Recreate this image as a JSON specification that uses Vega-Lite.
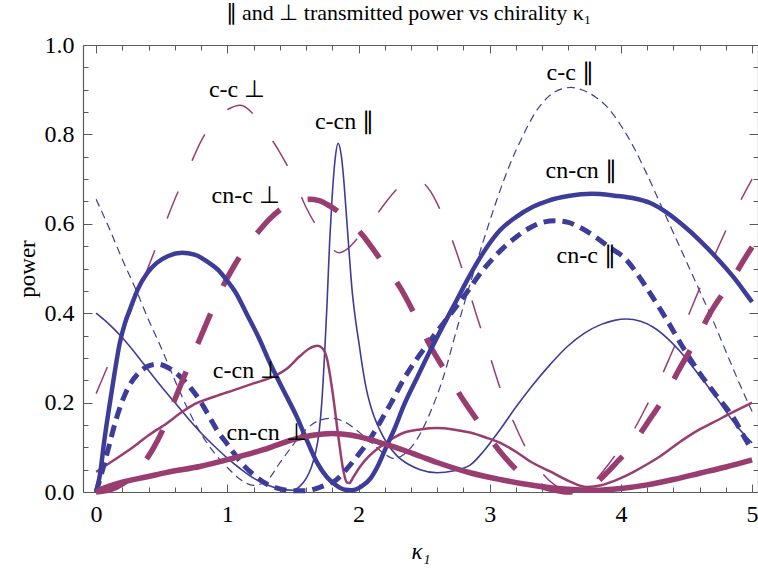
{
  "$schema": "https://vega.github.io/schema/vega-lite/v6.json",
  "width": 675,
  "height": 447,
  "autosize": {"type": "none"},
  "padding": {"left": 83, "top": 45, "right": 0, "bottom": 85},
  "background": "white",
  "config": {
    "view": {"stroke": null},
    "axis": {
      "grid": false,
      "labelFont": "Liberation Serif",
      "labelFontSize": 24,
      "labelColor": "black",
      "titleFont": "Liberation Serif",
      "titleFontSize": 23,
      "titleFontWeight": "normal",
      "titleColor": "black",
      "domainColor": "#5a5a5a",
      "domainWidth": 1.2,
      "tickColor": "#5a5a5a",
      "tickWidth": 1
    }
  },
  "title": {
    "text": "∥ and ⊥ transmitted power vs chirality κ₁",
    "font": "Liberation Serif",
    "fontSize": 22,
    "fontWeight": "normal",
    "color": "black",
    "anchor": "middle",
    "dx": -12,
    "offset": 8
  },
  "datasets": {
    "curves": [
      {"s": "cc_par", "k": 0, "p": 0.655}, {"s": "cc_par", "k": 0.1, "p": 0.59}, {"s": "cc_par", "k": 0.2, "p": 0.52}, {"s": "cc_par", "k": 0.3, "p": 0.455}, {"s": "cc_par", "k": 0.4, "p": 0.385}, {"s": "cc_par", "k": 0.5, "p": 0.32}, {"s": "cc_par", "k": 0.6, "p": 0.25}, {"s": "cc_par", "k": 0.7, "p": 0.185}, {"s": "cc_par", "k": 0.8, "p": 0.13}, {"s": "cc_par", "k": 0.9, "p": 0.088}, {"s": "cc_par", "k": 1.0, "p": 0.055}, {"s": "cc_par", "k": 1.1, "p": 0.028}, {"s": "cc_par", "k": 1.2, "p": 0.015}, {"s": "cc_par", "k": 1.3, "p": 0.025}, {"s": "cc_par", "k": 1.4, "p": 0.065}, {"s": "cc_par", "k": 1.5, "p": 0.105}, {"s": "cc_par", "k": 1.6, "p": 0.14}, {"s": "cc_par", "k": 1.7, "p": 0.16}, {"s": "cc_par", "k": 1.8, "p": 0.165}, {"s": "cc_par", "k": 1.9, "p": 0.156}, {"s": "cc_par", "k": 2.0, "p": 0.135}, {"s": "cc_par", "k": 2.1, "p": 0.11}, {"s": "cc_par", "k": 2.2, "p": 0.085}, {"s": "cc_par", "k": 2.27, "p": 0.075}, {"s": "cc_par", "k": 2.35, "p": 0.085}, {"s": "cc_par", "k": 2.45, "p": 0.12}, {"s": "cc_par", "k": 2.55, "p": 0.18}, {"s": "cc_par", "k": 2.65, "p": 0.26}, {"s": "cc_par", "k": 2.75, "p": 0.365}, {"s": "cc_par", "k": 2.85, "p": 0.465}, {"s": "cc_par", "k": 2.95, "p": 0.56}, {"s": "cc_par", "k": 3.05, "p": 0.65}, {"s": "cc_par", "k": 3.15, "p": 0.73}, {"s": "cc_par", "k": 3.25, "p": 0.795}, {"s": "cc_par", "k": 3.35, "p": 0.85}, {"s": "cc_par", "k": 3.45, "p": 0.885}, {"s": "cc_par", "k": 3.55, "p": 0.902}, {"s": "cc_par", "k": 3.62, "p": 0.905}, {"s": "cc_par", "k": 3.7, "p": 0.9}, {"s": "cc_par", "k": 3.8, "p": 0.885}, {"s": "cc_par", "k": 3.9, "p": 0.86}, {"s": "cc_par", "k": 4.0, "p": 0.82}, {"s": "cc_par", "k": 4.1, "p": 0.77}, {"s": "cc_par", "k": 4.2, "p": 0.71}, {"s": "cc_par", "k": 4.3, "p": 0.645}, {"s": "cc_par", "k": 4.4, "p": 0.58}, {"s": "cc_par", "k": 4.5, "p": 0.515}, {"s": "cc_par", "k": 4.6, "p": 0.45}, {"s": "cc_par", "k": 4.7, "p": 0.385}, {"s": "cc_par", "k": 4.8, "p": 0.315}, {"s": "cc_par", "k": 4.9, "p": 0.245}, {"s": "cc_par", "k": 5.0, "p": 0.18},

      {"s": "cc_perp", "k": 0, "p": 0.22}, {"s": "cc_perp", "k": 0.1, "p": 0.29}, {"s": "cc_perp", "k": 0.2, "p": 0.36}, {"s": "cc_perp", "k": 0.3, "p": 0.43}, {"s": "cc_perp", "k": 0.4, "p": 0.505}, {"s": "cc_perp", "k": 0.5, "p": 0.58}, {"s": "cc_perp", "k": 0.6, "p": 0.655}, {"s": "cc_perp", "k": 0.7, "p": 0.72}, {"s": "cc_perp", "k": 0.8, "p": 0.785}, {"s": "cc_perp", "k": 0.9, "p": 0.83}, {"s": "cc_perp", "k": 1.0, "p": 0.855}, {"s": "cc_perp", "k": 1.1, "p": 0.865}, {"s": "cc_perp", "k": 1.2, "p": 0.845}, {"s": "cc_perp", "k": 1.3, "p": 0.805}, {"s": "cc_perp", "k": 1.4, "p": 0.76}, {"s": "cc_perp", "k": 1.5, "p": 0.705}, {"s": "cc_perp", "k": 1.6, "p": 0.637}, {"s": "cc_perp", "k": 1.7, "p": 0.585}, {"s": "cc_perp", "k": 1.78, "p": 0.55}, {"s": "cc_perp", "k": 1.85, "p": 0.535}, {"s": "cc_perp", "k": 1.92, "p": 0.545}, {"s": "cc_perp", "k": 2.0, "p": 0.57}, {"s": "cc_perp", "k": 2.1, "p": 0.605}, {"s": "cc_perp", "k": 2.2, "p": 0.645}, {"s": "cc_perp", "k": 2.3, "p": 0.68}, {"s": "cc_perp", "k": 2.38, "p": 0.7}, {"s": "cc_perp", "k": 2.45, "p": 0.698}, {"s": "cc_perp", "k": 2.55, "p": 0.672}, {"s": "cc_perp", "k": 2.6, "p": 0.645}, {"s": "cc_perp", "k": 2.7, "p": 0.575}, {"s": "cc_perp", "k": 2.8, "p": 0.49}, {"s": "cc_perp", "k": 2.9, "p": 0.395}, {"s": "cc_perp", "k": 3.0, "p": 0.305}, {"s": "cc_perp", "k": 3.1, "p": 0.215}, {"s": "cc_perp", "k": 3.2, "p": 0.145}, {"s": "cc_perp", "k": 3.3, "p": 0.085}, {"s": "cc_perp", "k": 3.4, "p": 0.042}, {"s": "cc_perp", "k": 3.5, "p": 0.015}, {"s": "cc_perp", "k": 3.6, "p": 0.002}, {"s": "cc_perp", "k": 3.7, "p": 0.006}, {"s": "cc_perp", "k": 3.8, "p": 0.025}, {"s": "cc_perp", "k": 3.9, "p": 0.06}, {"s": "cc_perp", "k": 4.0, "p": 0.1}, {"s": "cc_perp", "k": 4.1, "p": 0.14}, {"s": "cc_perp", "k": 4.2, "p": 0.195}, {"s": "cc_perp", "k": 4.3, "p": 0.253}, {"s": "cc_perp", "k": 4.4, "p": 0.32}, {"s": "cc_perp", "k": 4.5, "p": 0.385}, {"s": "cc_perp", "k": 4.6, "p": 0.455}, {"s": "cc_perp", "k": 4.7, "p": 0.52}, {"s": "cc_perp", "k": 4.8, "p": 0.585}, {"s": "cc_perp", "k": 4.9, "p": 0.645}, {"s": "cc_perp", "k": 5.0, "p": 0.7},

      {"s": "ccn_par", "k": 0, "p": 0.4}, {"s": "ccn_par", "k": 0.1, "p": 0.375}, {"s": "ccn_par", "k": 0.2, "p": 0.345}, {"s": "ccn_par", "k": 0.3, "p": 0.31}, {"s": "ccn_par", "k": 0.4, "p": 0.272}, {"s": "ccn_par", "k": 0.5, "p": 0.235}, {"s": "ccn_par", "k": 0.6, "p": 0.2}, {"s": "ccn_par", "k": 0.7, "p": 0.165}, {"s": "ccn_par", "k": 0.8, "p": 0.132}, {"s": "ccn_par", "k": 0.9, "p": 0.103}, {"s": "ccn_par", "k": 1.0, "p": 0.076}, {"s": "ccn_par", "k": 1.1, "p": 0.052}, {"s": "ccn_par", "k": 1.2, "p": 0.031}, {"s": "ccn_par", "k": 1.3, "p": 0.016}, {"s": "ccn_par", "k": 1.4, "p": 0.007}, {"s": "ccn_par", "k": 1.5, "p": 0.004}, {"s": "ccn_par", "k": 1.55, "p": 0.012}, {"s": "ccn_par", "k": 1.6, "p": 0.03}, {"s": "ccn_par", "k": 1.64, "p": 0.055}, {"s": "ccn_par", "k": 1.67, "p": 0.085}, {"s": "ccn_par", "k": 1.7, "p": 0.135}, {"s": "ccn_par", "k": 1.72, "p": 0.2}, {"s": "ccn_par", "k": 1.74, "p": 0.3}, {"s": "ccn_par", "k": 1.76, "p": 0.42}, {"s": "ccn_par", "k": 1.78, "p": 0.56}, {"s": "ccn_par", "k": 1.8, "p": 0.665}, {"s": "ccn_par", "k": 1.82, "p": 0.74}, {"s": "ccn_par", "k": 1.845, "p": 0.78}, {"s": "ccn_par", "k": 1.87, "p": 0.75}, {"s": "ccn_par", "k": 1.89, "p": 0.69}, {"s": "ccn_par", "k": 1.91, "p": 0.61}, {"s": "ccn_par", "k": 1.93, "p": 0.53}, {"s": "ccn_par", "k": 1.95, "p": 0.455}, {"s": "ccn_par", "k": 1.975, "p": 0.39}, {"s": "ccn_par", "k": 2.0, "p": 0.34}, {"s": "ccn_par", "k": 2.03, "p": 0.28}, {"s": "ccn_par", "k": 2.06, "p": 0.23}, {"s": "ccn_par", "k": 2.1, "p": 0.185}, {"s": "ccn_par", "k": 2.16, "p": 0.14}, {"s": "ccn_par", "k": 2.22, "p": 0.108}, {"s": "ccn_par", "k": 2.29, "p": 0.082}, {"s": "ccn_par", "k": 2.38, "p": 0.062}, {"s": "ccn_par", "k": 2.47, "p": 0.05}, {"s": "ccn_par", "k": 2.6, "p": 0.043}, {"s": "ccn_par", "k": 2.72, "p": 0.047}, {"s": "ccn_par", "k": 2.85, "p": 0.06}, {"s": "ccn_par", "k": 2.95, "p": 0.09}, {"s": "ccn_par", "k": 3.08, "p": 0.14}, {"s": "ccn_par", "k": 3.2, "p": 0.19}, {"s": "ccn_par", "k": 3.33, "p": 0.24}, {"s": "ccn_par", "k": 3.46, "p": 0.285}, {"s": "ccn_par", "k": 3.59, "p": 0.325}, {"s": "ccn_par", "k": 3.72, "p": 0.355}, {"s": "ccn_par", "k": 3.85, "p": 0.375}, {"s": "ccn_par", "k": 3.95, "p": 0.384}, {"s": "ccn_par", "k": 4.04, "p": 0.387}, {"s": "ccn_par", "k": 4.15, "p": 0.382}, {"s": "ccn_par", "k": 4.25, "p": 0.368}, {"s": "ccn_par", "k": 4.35, "p": 0.345}, {"s": "ccn_par", "k": 4.45, "p": 0.315}, {"s": "ccn_par", "k": 4.6, "p": 0.26}, {"s": "ccn_par", "k": 4.73, "p": 0.21}, {"s": "ccn_par", "k": 4.85, "p": 0.16}, {"s": "ccn_par", "k": 4.95, "p": 0.125}, {"s": "ccn_par", "k": 5.0, "p": 0.11},

      {"s": "ccn_perp", "k": 0, "p": 0.045}, {"s": "ccn_perp", "k": 0.14, "p": 0.072}, {"s": "ccn_perp", "k": 0.28, "p": 0.1}, {"s": "ccn_perp", "k": 0.4, "p": 0.127}, {"s": "ccn_perp", "k": 0.54, "p": 0.154}, {"s": "ccn_perp", "k": 0.64, "p": 0.176}, {"s": "ccn_perp", "k": 0.74, "p": 0.195}, {"s": "ccn_perp", "k": 0.9, "p": 0.213}, {"s": "ccn_perp", "k": 1.05, "p": 0.228}, {"s": "ccn_perp", "k": 1.2, "p": 0.243}, {"s": "ccn_perp", "k": 1.35, "p": 0.258}, {"s": "ccn_perp", "k": 1.45, "p": 0.275}, {"s": "ccn_perp", "k": 1.55, "p": 0.303}, {"s": "ccn_perp", "k": 1.62, "p": 0.32}, {"s": "ccn_perp", "k": 1.69, "p": 0.327}, {"s": "ccn_perp", "k": 1.73, "p": 0.32}, {"s": "ccn_perp", "k": 1.76, "p": 0.298}, {"s": "ccn_perp", "k": 1.8, "p": 0.228}, {"s": "ccn_perp", "k": 1.85, "p": 0.116}, {"s": "ccn_perp", "k": 1.88, "p": 0.055}, {"s": "ccn_perp", "k": 1.91, "p": 0.022}, {"s": "ccn_perp", "k": 1.93, "p": 0.02}, {"s": "ccn_perp", "k": 1.96, "p": 0.033}, {"s": "ccn_perp", "k": 2.01, "p": 0.056}, {"s": "ccn_perp", "k": 2.08, "p": 0.08}, {"s": "ccn_perp", "k": 2.16, "p": 0.1}, {"s": "ccn_perp", "k": 2.25, "p": 0.118}, {"s": "ccn_perp", "k": 2.34, "p": 0.132}, {"s": "ccn_perp", "k": 2.47, "p": 0.14}, {"s": "ccn_perp", "k": 2.6, "p": 0.143}, {"s": "ccn_perp", "k": 2.72, "p": 0.14}, {"s": "ccn_perp", "k": 2.85, "p": 0.133}, {"s": "ccn_perp", "k": 2.97, "p": 0.122}, {"s": "ccn_perp", "k": 3.08, "p": 0.11}, {"s": "ccn_perp", "k": 3.2, "p": 0.09}, {"s": "ccn_perp", "k": 3.3, "p": 0.07}, {"s": "ccn_perp", "k": 3.46, "p": 0.046}, {"s": "ccn_perp", "k": 3.6, "p": 0.025}, {"s": "ccn_perp", "k": 3.74, "p": 0.011}, {"s": "ccn_perp", "k": 3.85, "p": 0.015}, {"s": "ccn_perp", "k": 3.95, "p": 0.025}, {"s": "ccn_perp", "k": 4.09, "p": 0.044}, {"s": "ccn_perp", "k": 4.2, "p": 0.062}, {"s": "ccn_perp", "k": 4.3, "p": 0.08}, {"s": "ccn_perp", "k": 4.47, "p": 0.116}, {"s": "ccn_perp", "k": 4.6, "p": 0.14}, {"s": "ccn_perp", "k": 4.7, "p": 0.155}, {"s": "ccn_perp", "k": 4.85, "p": 0.178}, {"s": "ccn_perp", "k": 5.0, "p": 0.2},

      {"s": "cnc_par", "k": 0, "p": 0}, {"s": "cnc_par", "k": 0.05, "p": 0.05}, {"s": "cnc_par", "k": 0.1, "p": 0.105}, {"s": "cnc_par", "k": 0.15, "p": 0.16}, {"s": "cnc_par", "k": 0.23, "p": 0.225}, {"s": "cnc_par", "k": 0.33, "p": 0.268}, {"s": "cnc_par", "k": 0.4, "p": 0.282}, {"s": "cnc_par", "k": 0.47, "p": 0.286}, {"s": "cnc_par", "k": 0.55, "p": 0.278}, {"s": "cnc_par", "k": 0.64, "p": 0.258}, {"s": "cnc_par", "k": 0.72, "p": 0.233}, {"s": "cnc_par", "k": 0.79, "p": 0.205}, {"s": "cnc_par", "k": 0.86, "p": 0.17}, {"s": "cnc_par", "k": 0.92, "p": 0.139}, {"s": "cnc_par", "k": 1.0, "p": 0.107}, {"s": "cnc_par", "k": 1.05, "p": 0.087}, {"s": "cnc_par", "k": 1.13, "p": 0.058}, {"s": "cnc_par", "k": 1.22, "p": 0.034}, {"s": "cnc_par", "k": 1.3, "p": 0.018}, {"s": "cnc_par", "k": 1.4, "p": 0.007}, {"s": "cnc_par", "k": 1.5, "p": 0.003}, {"s": "cnc_par", "k": 1.6, "p": 0.003}, {"s": "cnc_par", "k": 1.7, "p": 0.01}, {"s": "cnc_par", "k": 1.77, "p": 0.018}, {"s": "cnc_par", "k": 1.83, "p": 0.027}, {"s": "cnc_par", "k": 1.9, "p": 0.048}, {"s": "cnc_par", "k": 1.99, "p": 0.08}, {"s": "cnc_par", "k": 2.08, "p": 0.115}, {"s": "cnc_par", "k": 2.16, "p": 0.154}, {"s": "cnc_par", "k": 2.25, "p": 0.2}, {"s": "cnc_par", "k": 2.34, "p": 0.25}, {"s": "cnc_par", "k": 2.45, "p": 0.3}, {"s": "cnc_par", "k": 2.55, "p": 0.34}, {"s": "cnc_par", "k": 2.68, "p": 0.39}, {"s": "cnc_par", "k": 2.8, "p": 0.436}, {"s": "cnc_par", "k": 2.95, "p": 0.497}, {"s": "cnc_par", "k": 3.1, "p": 0.545}, {"s": "cnc_par", "k": 3.2, "p": 0.57}, {"s": "cnc_par", "k": 3.3, "p": 0.59}, {"s": "cnc_par", "k": 3.4, "p": 0.603}, {"s": "cnc_par", "k": 3.5, "p": 0.607}, {"s": "cnc_par", "k": 3.6, "p": 0.603}, {"s": "cnc_par", "k": 3.7, "p": 0.59}, {"s": "cnc_par", "k": 3.8, "p": 0.572}, {"s": "cnc_par", "k": 3.9, "p": 0.55}, {"s": "cnc_par", "k": 4.04, "p": 0.52}, {"s": "cnc_par", "k": 4.12, "p": 0.49}, {"s": "cnc_par", "k": 4.2, "p": 0.455}, {"s": "cnc_par", "k": 4.35, "p": 0.385}, {"s": "cnc_par", "k": 4.47, "p": 0.325}, {"s": "cnc_par", "k": 4.6, "p": 0.266}, {"s": "cnc_par", "k": 4.73, "p": 0.215}, {"s": "cnc_par", "k": 4.86, "p": 0.165}, {"s": "cnc_par", "k": 4.95, "p": 0.118}, {"s": "cnc_par", "k": 5.0, "p": 0.094},

      {"s": "cnc_perp", "k": 0, "p": 0}, {"s": "cnc_perp", "k": 0.1, "p": 0.004}, {"s": "cnc_perp", "k": 0.2, "p": 0.018}, {"s": "cnc_perp", "k": 0.3, "p": 0.042}, {"s": "cnc_perp", "k": 0.38, "p": 0.072}, {"s": "cnc_perp", "k": 0.44, "p": 0.1}, {"s": "cnc_perp", "k": 0.5, "p": 0.134}, {"s": "cnc_perp", "k": 0.59, "p": 0.2}, {"s": "cnc_perp", "k": 0.68, "p": 0.265}, {"s": "cnc_perp", "k": 0.78, "p": 0.335}, {"s": "cnc_perp", "k": 0.874, "p": 0.4}, {"s": "cnc_perp", "k": 0.95, "p": 0.45}, {"s": "cnc_perp", "k": 1.05, "p": 0.505}, {"s": "cnc_perp", "k": 1.15, "p": 0.55}, {"s": "cnc_perp", "k": 1.23, "p": 0.58}, {"s": "cnc_perp", "k": 1.32, "p": 0.61}, {"s": "cnc_perp", "k": 1.42, "p": 0.635}, {"s": "cnc_perp", "k": 1.52, "p": 0.65}, {"s": "cnc_perp", "k": 1.62, "p": 0.655}, {"s": "cnc_perp", "k": 1.7, "p": 0.652}, {"s": "cnc_perp", "k": 1.78, "p": 0.64}, {"s": "cnc_perp", "k": 1.86, "p": 0.624}, {"s": "cnc_perp", "k": 1.95, "p": 0.6}, {"s": "cnc_perp", "k": 2.03, "p": 0.575}, {"s": "cnc_perp", "k": 2.1, "p": 0.548}, {"s": "cnc_perp", "k": 2.18, "p": 0.515}, {"s": "cnc_perp", "k": 2.25, "p": 0.487}, {"s": "cnc_perp", "k": 2.32, "p": 0.456}, {"s": "cnc_perp", "k": 2.43, "p": 0.396}, {"s": "cnc_perp", "k": 2.55, "p": 0.325}, {"s": "cnc_perp", "k": 2.68, "p": 0.262}, {"s": "cnc_perp", "k": 2.8, "p": 0.205}, {"s": "cnc_perp", "k": 2.94, "p": 0.146}, {"s": "cnc_perp", "k": 3.08, "p": 0.09}, {"s": "cnc_perp", "k": 3.16, "p": 0.063}, {"s": "cnc_perp", "k": 3.25, "p": 0.038}, {"s": "cnc_perp", "k": 3.4, "p": 0.012}, {"s": "cnc_perp", "k": 3.5, "p": 0.004}, {"s": "cnc_perp", "k": 3.6, "p": 0.0}, {"s": "cnc_perp", "k": 3.7, "p": 0.004}, {"s": "cnc_perp", "k": 3.8, "p": 0.018}, {"s": "cnc_perp", "k": 3.9, "p": 0.045}, {"s": "cnc_perp", "k": 3.98, "p": 0.07}, {"s": "cnc_perp", "k": 4.07, "p": 0.098}, {"s": "cnc_perp", "k": 4.2, "p": 0.154}, {"s": "cnc_perp", "k": 4.34, "p": 0.217}, {"s": "cnc_perp", "k": 4.44, "p": 0.272}, {"s": "cnc_perp", "k": 4.58, "p": 0.344}, {"s": "cnc_perp", "k": 4.68, "p": 0.4}, {"s": "cnc_perp", "k": 4.83, "p": 0.467}, {"s": "cnc_perp", "k": 4.95, "p": 0.525}, {"s": "cnc_perp", "k": 5.0, "p": 0.548},

      {"s": "cncn_par", "k": 0, "p": 0}, {"s": "cncn_par", "k": 0.03, "p": 0.04}, {"s": "cncn_par", "k": 0.06, "p": 0.11}, {"s": "cncn_par", "k": 0.1, "p": 0.19}, {"s": "cncn_par", "k": 0.14, "p": 0.265}, {"s": "cncn_par", "k": 0.18, "p": 0.333}, {"s": "cncn_par", "k": 0.22, "p": 0.378}, {"s": "cncn_par", "k": 0.26, "p": 0.41}, {"s": "cncn_par", "k": 0.32, "p": 0.455}, {"s": "cncn_par", "k": 0.39, "p": 0.49}, {"s": "cncn_par", "k": 0.46, "p": 0.512}, {"s": "cncn_par", "k": 0.55, "p": 0.528}, {"s": "cncn_par", "k": 0.655, "p": 0.535}, {"s": "cncn_par", "k": 0.75, "p": 0.531}, {"s": "cncn_par", "k": 0.85, "p": 0.515}, {"s": "cncn_par", "k": 0.93, "p": 0.497}, {"s": "cncn_par", "k": 1.0, "p": 0.472}, {"s": "cncn_par", "k": 1.06, "p": 0.448}, {"s": "cncn_par", "k": 1.15, "p": 0.397}, {"s": "cncn_par", "k": 1.24, "p": 0.345}, {"s": "cncn_par", "k": 1.32, "p": 0.292}, {"s": "cncn_par", "k": 1.42, "p": 0.232}, {"s": "cncn_par", "k": 1.53, "p": 0.168}, {"s": "cncn_par", "k": 1.6, "p": 0.12}, {"s": "cncn_par", "k": 1.68, "p": 0.068}, {"s": "cncn_par", "k": 1.76, "p": 0.033}, {"s": "cncn_par", "k": 1.83, "p": 0.015}, {"s": "cncn_par", "k": 1.9, "p": 0.005}, {"s": "cncn_par", "k": 1.95, "p": 0.004}, {"s": "cncn_par", "k": 2.02, "p": 0.012}, {"s": "cncn_par", "k": 2.09, "p": 0.03}, {"s": "cncn_par", "k": 2.15, "p": 0.06}, {"s": "cncn_par", "k": 2.21, "p": 0.1}, {"s": "cncn_par", "k": 2.28, "p": 0.145}, {"s": "cncn_par", "k": 2.34, "p": 0.19}, {"s": "cncn_par", "k": 2.45, "p": 0.258}, {"s": "cncn_par", "k": 2.55, "p": 0.318}, {"s": "cncn_par", "k": 2.65, "p": 0.375}, {"s": "cncn_par", "k": 2.75, "p": 0.43}, {"s": "cncn_par", "k": 2.84, "p": 0.48}, {"s": "cncn_par", "k": 2.95, "p": 0.535}, {"s": "cncn_par", "k": 3.08, "p": 0.586}, {"s": "cncn_par", "k": 3.2, "p": 0.615}, {"s": "cncn_par", "k": 3.33, "p": 0.638}, {"s": "cncn_par", "k": 3.45, "p": 0.652}, {"s": "cncn_par", "k": 3.6, "p": 0.662}, {"s": "cncn_par", "k": 3.78, "p": 0.667}, {"s": "cncn_par", "k": 3.95, "p": 0.663}, {"s": "cncn_par", "k": 4.1, "p": 0.657}, {"s": "cncn_par", "k": 4.22, "p": 0.647}, {"s": "cncn_par", "k": 4.35, "p": 0.625}, {"s": "cncn_par", "k": 4.48, "p": 0.595}, {"s": "cncn_par", "k": 4.6, "p": 0.563}, {"s": "cncn_par", "k": 4.72, "p": 0.527}, {"s": "cncn_par", "k": 4.86, "p": 0.48}, {"s": "cncn_par", "k": 4.95, "p": 0.445}, {"s": "cncn_par", "k": 5.0, "p": 0.425},

      {"s": "cncn_perp", "k": 0, "p": 0}, {"s": "cncn_perp", "k": 0.05, "p": 0.008}, {"s": "cncn_perp", "k": 0.1, "p": 0.013}, {"s": "cncn_perp", "k": 0.2, "p": 0.022}, {"s": "cncn_perp", "k": 0.39, "p": 0.034}, {"s": "cncn_perp", "k": 0.54, "p": 0.044}, {"s": "cncn_perp", "k": 0.79, "p": 0.057}, {"s": "cncn_perp", "k": 1.05, "p": 0.076}, {"s": "cncn_perp", "k": 1.2, "p": 0.088}, {"s": "cncn_perp", "k": 1.33, "p": 0.1}, {"s": "cncn_perp", "k": 1.5, "p": 0.117}, {"s": "cncn_perp", "k": 1.65, "p": 0.127}, {"s": "cncn_perp", "k": 1.8, "p": 0.131}, {"s": "cncn_perp", "k": 1.95, "p": 0.127}, {"s": "cncn_perp", "k": 2.09, "p": 0.117}, {"s": "cncn_perp", "k": 2.2, "p": 0.107}, {"s": "cncn_perp", "k": 2.34, "p": 0.094}, {"s": "cncn_perp", "k": 2.47, "p": 0.08}, {"s": "cncn_perp", "k": 2.6, "p": 0.066}, {"s": "cncn_perp", "k": 2.85, "p": 0.043}, {"s": "cncn_perp", "k": 3.08, "p": 0.028}, {"s": "cncn_perp", "k": 3.35, "p": 0.014}, {"s": "cncn_perp", "k": 3.6, "p": 0.006}, {"s": "cncn_perp", "k": 3.8, "p": 0.004}, {"s": "cncn_perp", "k": 4.0, "p": 0.008}, {"s": "cncn_perp", "k": 4.2, "p": 0.016}, {"s": "cncn_perp", "k": 4.4, "p": 0.028}, {"s": "cncn_perp", "k": 4.6, "p": 0.042}, {"s": "cncn_perp", "k": 4.8, "p": 0.056}, {"s": "cncn_perp", "k": 5.0, "p": 0.072}
    ],
    "labels": [
      {"k": 1.894, "p": 0.811, "t": "c-cn ∥"},
      {"k": 1.074, "p": 0.884, "t": "c-c ⊥"},
      {"k": 1.14, "p": 0.647, "t": "cn-c ⊥"},
      {"k": 3.613, "p": 0.922, "t": "c-c ∥"},
      {"k": 3.697, "p": 0.702, "t": "cn-cn ∥"},
      {"k": 3.735, "p": 0.512, "t": "cn-c ∥"},
      {"k": 1.15, "p": 0.255, "t": "c-cn ⊥"},
      {"k": 1.3, "p": 0.116, "t": "cn-cn ⊥"}
    ]
  },
  "data": {"name": "curves"},
  "resolve": {"scale": {"x": "shared", "y": "shared"}, "axis": {"x": "independent", "y": "independent"}},
  "layer": [
    {
      "transform": [{"filter": "datum.s === 'cc_par'"}],
      "mark": {"type": "line", "interpolate": "monotone", "color": "#3D3D99", "strokeWidth": 1.2, "strokeDash": [8, 5]},
      "encoding": {
        "x": {"field": "k", "type": "quantitative", "scale": {"domain": [-0.1, 5.045], "nice": false, "zero": false},
          "axis": {"orient": "bottom", "values": [0, 1, 2, 3, 4, 5], "ticks": false, "domain": true, "labelPadding": 10, "labelFlush": false, "title": "κ₁", "titleFontStyle": "italic", "titlePadding": 14}},
        "y": {"field": "p", "type": "quantitative", "scale": {"domain": [0, 1], "nice": false, "zero": false},
          "axis": {"orient": "left", "values": [0, 0.2, 0.4, 0.6, 0.8, 1.0], "format": ".1f", "ticks": false, "domain": true, "labelPadding": 9, "labelFlush": false, "title": "power", "titlePadding": 5}}
      }
    },
    {
      "transform": [{"filter": "datum.s === 'cc_perp'"}],
      "mark": {"type": "line", "interpolate": "monotone", "color": "#993D71", "strokeWidth": 1.5, "strokeDash": [29, 34]},
      "encoding": {
        "x": {"field": "k", "type": "quantitative",
          "axis": {"orient": "bottom", "values": [0, 0.2, 0.4, 0.6, 0.8, 1, 1.2, 1.4, 1.6, 1.8, 2, 2.2, 2.4, 2.6, 2.8, 3, 3.2, 3.4, 3.6, 3.8, 4, 4.2, 4.4, 4.6, 4.8, 5], "labels": false, "domain": false, "title": null,
            "tickSize": {"condition": {"test": "datum.value % 1 === 0", "value": -8}, "value": -5}}},
        "y": {"field": "p", "type": "quantitative",
          "axis": {"orient": "left", "values": [0, 0.05, 0.1, 0.15, 0.2, 0.25, 0.3, 0.35, 0.4, 0.45, 0.5, 0.55, 0.6, 0.65, 0.7, 0.75, 0.8, 0.85, 0.9, 0.95, 1], "labels": false, "domain": false, "title": null,
            "tickSize": {"condition": {"test": "abs(datum.value * 5 - round(datum.value * 5)) < 0.001", "value": -9}, "value": -5}}}
      }
    },
    {
      "transform": [{"filter": "datum.s === 'ccn_par'"}],
      "mark": {"type": "line", "interpolate": "monotone", "color": "#3D3D99", "strokeWidth": 1.6},
      "encoding": {
        "x": {"field": "k", "type": "quantitative",
          "axis": {"orient": "top", "values": [0, 0.2, 0.4, 0.6, 0.8, 1, 1.2, 1.4, 1.6, 1.8, 2, 2.2, 2.4, 2.6, 2.8, 3, 3.2, 3.4, 3.6, 3.8, 4, 4.2, 4.4, 4.6, 4.8, 5], "labels": false, "domain": true, "title": null,
            "tickSize": {"condition": {"test": "datum.value % 1 === 0", "value": -8}, "value": -5}}},
        "y": {"field": "p", "type": "quantitative",
          "axis": {"orient": "right", "values": [0, 0.05, 0.1, 0.15, 0.2, 0.25, 0.3, 0.35, 0.4, 0.45, 0.5, 0.55, 0.6, 0.65, 0.7, 0.75, 0.8, 0.85, 0.9, 0.95, 1], "labels": false, "domain": true, "title": null,
            "tickSize": {"condition": {"test": "abs(datum.value * 5 - round(datum.value * 5)) < 0.001", "value": -9}, "value": -5}}}
      }
    },
    {
      "transform": [{"filter": "datum.s === 'ccn_perp'"}],
      "mark": {"type": "line", "interpolate": "monotone", "color": "#993D71", "strokeWidth": 2.5},
      "encoding": {"x": {"field": "k", "type": "quantitative", "axis": null}, "y": {"field": "p", "type": "quantitative", "axis": null}}
    },
    {
      "transform": [{"filter": "datum.s === 'cnc_par'"}],
      "mark": {"type": "line", "interpolate": "monotone", "color": "#3D3D99", "strokeWidth": 5, "strokeDash": [12, 7]},
      "encoding": {"x": {"field": "k", "type": "quantitative", "axis": null}, "y": {"field": "p", "type": "quantitative", "axis": null}}
    },
    {
      "transform": [{"filter": "datum.s === 'cnc_perp'"}],
      "mark": {"type": "line", "interpolate": "monotone", "color": "#993D71", "strokeWidth": 5.5, "strokeDash": [33, 30]},
      "encoding": {"x": {"field": "k", "type": "quantitative", "axis": null}, "y": {"field": "p", "type": "quantitative", "axis": null}}
    },
    {
      "transform": [{"filter": "datum.s === 'cncn_par'"}],
      "mark": {"type": "line", "interpolate": "monotone", "color": "#3D3D99", "strokeWidth": 4.5},
      "encoding": {"x": {"field": "k", "type": "quantitative", "axis": null}, "y": {"field": "p", "type": "quantitative", "axis": null}}
    },
    {
      "transform": [{"filter": "datum.s === 'cncn_perp'"}],
      "mark": {"type": "line", "interpolate": "monotone", "color": "#993D71", "strokeWidth": 5.5},
      "encoding": {"x": {"field": "k", "type": "quantitative", "axis": null}, "y": {"field": "p", "type": "quantitative", "axis": null}}
    },
    {
      "data": {"name": "labels"},
      "mark": {"type": "text", "font": "Liberation Serif", "fontSize": 24, "align": "center", "baseline": "alphabetic", "color": "black"},
      "encoding": {
        "x": {"field": "k", "type": "quantitative", "axis": null},
        "y": {"field": "p", "type": "quantitative", "axis": null},
        "text": {"field": "t"}
      }
    }
  ]
}
